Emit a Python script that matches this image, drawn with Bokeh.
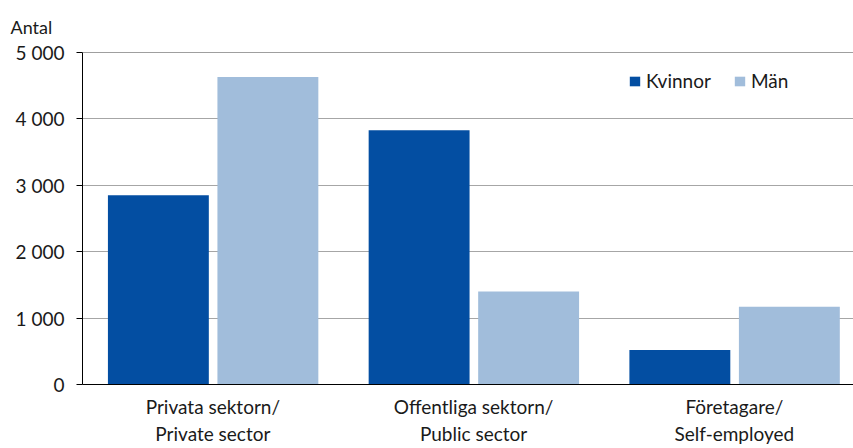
import numpy as np
from bokeh.plotting import figure
from bokeh.models import Range1d, FixedTicker, Legend, LegendItem, Span, ColumnDataSource, Title
from bokeh.transform import dodge
from bokeh.embed import file_html
from bokeh.resources import INLINE

categories = ["Privata sektorn/\nPrivate sector", "Offentliga sektorn/\nPublic sector", "Företagare/\nSelf-employed"]
kvinnor = [2850, 3830, 520]
man = [4630, 1400, 1170]
series_names = ["Kvinnor", "Män"]
y_ticks = [0, 1000, 2000, 3000, 4000, 5000]
y_tick_labels = ["0", "1 000", "2 000", "3 000", "4 000", "5 000"]
y_title = "Antal"

FONT = "Lato"
TXT = "#1a1a1a"
C_K = "#034EA2"
C_M = "#A1BDDB"

xc = [i + 0.5 for i in range(len(categories))]
src = ColumnDataSource(dict(x=xc, k=kvinnor, m=man))

p = figure(width=853, height=448, output_backend="svg", toolbar_location=None,
           x_range=Range1d(0, 2.957), y_range=Range1d(0, 5000),
           min_border_left=82, min_border_right=0, min_border_top=52, min_border_bottom=0)
p.outline_line_color = None
p.background_fill_color = "white"
p.border_fill_color = "white"

p.title = Title(text=y_title, align="left", offset=-72, text_font=FONT, text_font_size="18px",
                text_font_style="normal", text_color=TXT, standoff=25, vertical_align="top")

rk = p.vbar(x=dodge("x", -0.209, range=p.x_range), top="k", width=0.387, source=src,
            fill_color=C_K, line_color=None)
rm = p.vbar(x=dodge("x", 0.211, range=p.x_range), top="m", width=0.387, source=src,
            fill_color=C_M, line_color=None)

# grid
p.xgrid.grid_line_color = None
p.ygrid.ticker = FixedTicker(ticks=y_ticks)
p.ygrid.grid_line_color = "#A6A6A6"
p.ygrid.grid_line_width = 1
p.ygrid.level = "underlay"
p.add_layout(Span(location=y_ticks[-1], dimension="width", line_color="#404040", line_width=1))

# y axis
ya = p.yaxis[0]
ya.ticker = FixedTicker(ticks=y_ticks)
ya.major_label_overrides = {t: l for t, l in zip(y_ticks, y_tick_labels)}
ya.axis_line_color = "black"
ya.major_tick_line_color = "black"
ya.major_tick_out = 6
ya.major_tick_in = 0
ya.minor_tick_line_color = None
ya.major_label_text_font = FONT
ya.major_label_text_font_size = "19px"
ya.major_label_text_color = TXT
ya.major_label_standoff = 12

# x axis
xa = p.xaxis[0]
xa.ticker = FixedTicker(ticks=xc)
xa.major_label_overrides = {x: c for x, c in zip(xc, categories)}
xa.axis_line_color = "black"
xa.major_tick_line_color = None
xa.minor_tick_line_color = None
xa.major_label_text_font = FONT
xa.major_label_text_font_size = "19px"
xa.major_label_text_color = TXT
xa.major_label_standoff = 4

legend = Legend(items=[LegendItem(label=series_names[0], renderers=[rk]),
                       LegendItem(label=series_names[1], renderers=[rm])],
                orientation="horizontal", location=(546, 292),
                border_line_color=None, background_fill_alpha=0,
                glyph_width=13, glyph_height=12, label_standoff=5, spacing=22,
                padding=0, margin=0,
                label_text_font=FONT, label_text_font_size="19px", label_text_color=TXT)
p.add_layout(legend)

open("out.html", "w").write(file_html(p, INLINE))
